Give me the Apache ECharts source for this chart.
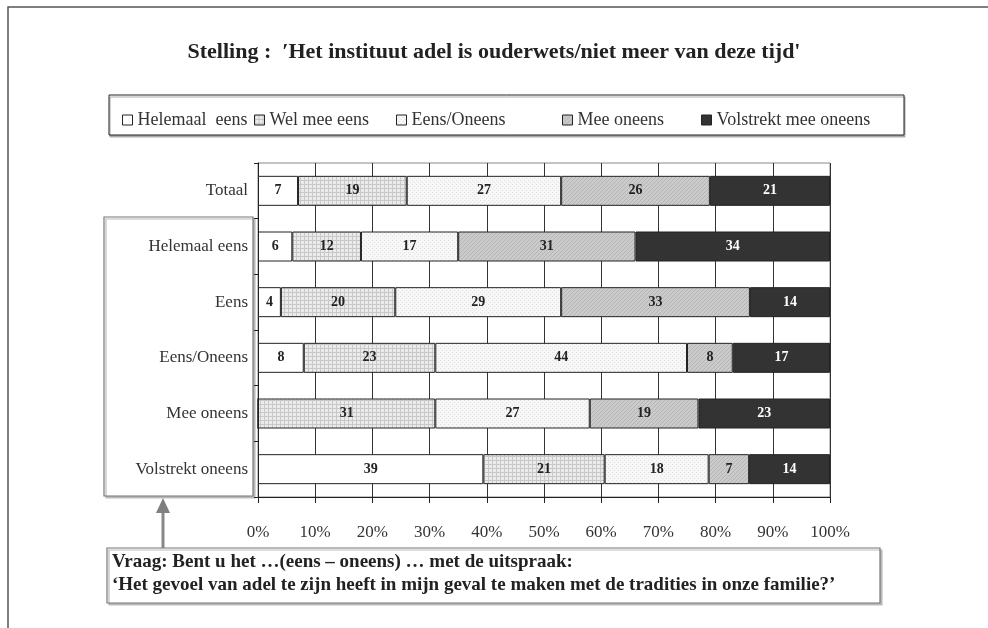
<!DOCTYPE html>
<html>
<head>
<meta charset="utf-8">
<script src="https://cdn.jsdelivr.net/npm/echarts@6/dist/echarts.min.js"></script>
<style>
  html, body { margin: 0; padding: 0; background: #fff; }
  #chart { width: 988px; height: 628px; }
</style>
</head>
<body>
<div id="chart"></div>
<script>
// categorieën (van boven naar beneden)
var categories = ["Totaal", "Helemaal eens", "Eens", "Eens/Oneens", "Mee oneens", "Volstrekt oneens"];
var seriesNames = ["Helemaal  eens", "Wel mee eens", "Eens/Oneens", "Mee oneens", "Volstrekt mee oneens"];

// percentages per antwoord, per rij
var helemaalEens = [7, 6, 4, 8, 0, 39];
var welMeeEens = [19, 12, 20, 23, 31, 21];
var eensOneens = [27, 17, 29, 44, 27, 18];
var meeOneens = [26, 31, 33, 8, 19, 7];
var volstrektOneens = [21, 34, 14, 17, 23, 14];

var xTicks = [0, 10, 20, 30, 40, 50, 60, 70, 80, 90, 100];

var FONT = "'Liberation Serif', 'DejaVu Serif', serif";

// patronen voor de vulling
function makePattern(bg, fg, kind) {
  var c = document.createElement("canvas");
  c.width = 4; c.height = 4;
  var ctx = c.getContext("2d");
  ctx.fillStyle = bg;
  ctx.fillRect(0, 0, 4, 4);
  ctx.fillStyle = fg;
  if (kind === "grid") {
    ctx.fillRect(0, 0, 4, 1);
    ctx.fillRect(0, 0, 1, 4);
  } else if (kind === "dots") {
    ctx.fillRect(0, 0, 1, 1);
    ctx.fillRect(2, 2, 1, 1);
  } else if (kind === "hatch") {
    ctx.fillRect(0, 0, 1, 1);
    ctx.fillRect(2, 2, 1, 1);
    ctx.fillRect(1, 3, 1, 1);
    ctx.fillRect(3, 1, 1, 1);
  }
  return { image: c, repeat: "repeat" };
}

var fills = [
  "#ffffff",
  makePattern("#ebebeb", "#c8c8c8", "grid"),
  makePattern("#f7f7f7", "#e0e0e0", "dots"),
  makePattern("#cbcbcb", "#b4b4b4", "hatch"),
  "#333333"
];

var raw = [helemaalEens, welMeeEens, eensOneens, meeOneens, volstrektOneens];
var rowSum = categories.map(function (c, i) {
  return raw.reduce(function (s, arr) { return s + arr[i]; }, 0);
});

var series = raw.map(function (arr, k) {
  return {
    name: seriesNames[k],
    type: "bar",
    stack: "totaal",
    barWidth: 30,
    data: arr.map(function (v, i) { return v / rowSum[i] * 100; }),
    itemStyle: { color: fills[k], borderColor: "#222", borderWidth: 1 },
    label: {
      show: true,
      position: "inside",
      fontFamily: FONT,
      fontWeight: "bold",
      fontSize: 14,
      color: k === 4 ? "#fff" : "#222",
      formatter: function (p) {
        var v = arr[p.dataIndex];
        return v > 0 ? String(v) : "";
      }
    }
  };
});

var legendLeft = [117, 249, 391, 557, 696];
var legends = seriesNames.map(function (n, k) {
  return {
    data: [n],
    left: legendLeft[k],
    top: 106,
    itemWidth: 10,
    itemHeight: 10,
    icon: "rect",
    itemGap: 0,
    selectedMode: false,
    itemStyle: { borderWidth: 1, borderColor: "#222" },
    textStyle: { fontFamily: FONT, fontSize: 18, color: "#333" }
  };
});

var chart = echarts.init(document.getElementById("chart"));
chart.setOption({
  animation: false,
  backgroundColor: "#fff",
  title: {
    text: "Stelling :  ′Het instituut adel is ouderwets/niet meer van deze tijd'",
    left: "center",
    top: 36,
    textStyle: { fontFamily: FONT, fontSize: 22, fontWeight: "bold", color: "#222" }
  },
  legend: legends,
  grid: { left: 258, right: 158, top: 163, bottom: 131, show: true, borderColor: "#888", borderWidth: 1 },
  xAxis: {
    type: "value",
    min: 0,
    max: 100,
    interval: 10,
    axisLine: { show: true, lineStyle: { color: "#222" } },
    axisTick: { show: true, length: 6, lineStyle: { color: "#222" } },
    splitLine: { show: true, lineStyle: { color: "#333", width: 1 } },
    axisLabel: {
      margin: 27,
      fontFamily: FONT,
      fontSize: 17,
      color: "#333",
      formatter: function (v) { return xTicks.indexOf(v) >= 0 ? v + "%" : ""; }
    }
  },
  yAxis: {
    type: "category",
    inverse: true,
    data: categories,
    axisLine: { show: true, lineStyle: { color: "#222" } },
    axisTick: { show: true, length: 4, lineStyle: { color: "#222" } },
    axisLabel: { margin: 10, fontFamily: FONT, fontSize: 17, color: "#333" }
  },
  series: series,
  graphic: [
    // buitenkader
    { type: "rect", z: -10, shape: { x: 8, y: 7, width: 1100, height: 800 },
      style: { fill: "none", stroke: "#555", lineWidth: 1.5 } },
    // legendakader
    { type: "rect", z: -5, shape: { x: 109, y: 95, width: 795, height: 40 },
      style: { fill: "#fff", stroke: "#222", lineWidth: 1, shadowColor: "#aaa", shadowOffsetX: 1, shadowOffsetY: 2 } },
    // kader rond de antwoordcategorieën
    { type: "rect", z: -5, shape: { x: 104, y: 217, width: 149, height: 279 },
      style: { fill: "#fff", stroke: "#777", lineWidth: 1.2, shadowColor: "#bbb", shadowOffsetX: 2, shadowOffsetY: 2 } },
    // pijl
    { type: "line", z: 5, shape: { x1: 163, y1: 548, x2: 163, y2: 510 },
      style: { stroke: "#888", lineWidth: 3 } },
    { type: "polygon", z: 5, shape: { points: [[163, 498], [156, 513], [170, 513]] },
      style: { fill: "#808080" } },
    // vraag
    { type: "rect", z: 5, shape: { x: 107, y: 548, width: 773, height: 55 },
      style: { fill: "#fff", stroke: "#777", lineWidth: 1.2, shadowColor: "#bbb", shadowOffsetX: 2, shadowOffsetY: 2 } },
    { type: "text", z: 6, left: 112, top: 553,
      style: { text: "Vraag: Bent u het …(eens – oneens) … met de uitspraak:", fill: "#222",
        font: "bold 19px " + FONT } },
    { type: "text", z: 6, left: 112, top: 576,
      style: { text: "‘Het gevoel van adel te zijn heeft in mijn geval te maken met de tradities in onze familie?’", fill: "#222",
        font: "bold 19px " + FONT } }
  ]
});
</script>
</body>
</html>
